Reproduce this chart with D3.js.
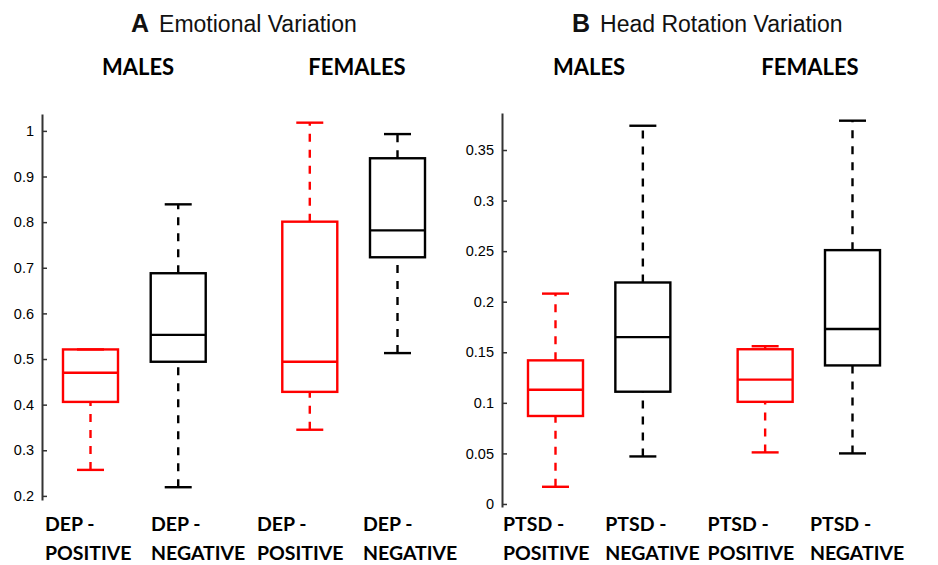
<!DOCTYPE html>
<html>
<head>
<meta charset="utf-8">
<script src="https://cdn.jsdelivr.net/npm/d3@7"></script>
<style>
  body { margin: 0; background: #fff; }
  svg { display: block; }
</style>
</head>
<body>
<div id="chart"></div>
<script>
// Panel A - Emotional Variation (box stats)
const groupsA = ["MALES", "FEMALES"];
const catsA = [["DEP -", "POSITIVE"], ["DEP -", "NEGATIVE"], ["DEP -", "POSITIVE"], ["DEP -", "NEGATIVE"]];
const lowA  = [0.257, 0.219, 0.345, 0.513];
const q1A   = [0.406, 0.494, 0.428, 0.723];
const medA  = [0.470, 0.553, 0.494, 0.782];
const q3A   = [0.521, 0.688, 0.801, 0.940];
const highA = [0.521, 0.839, 1.018, 0.993];
const ticksA = [0.2, 0.3, 0.4, 0.5, 0.6, 0.7, 0.8, 0.9, 1];

// Panel B - Head Rotation Variation
const groupsB = ["MALES", "FEMALES"];
const catsB = [["PTSD -", "POSITIVE"], ["PTSD -", "NEGATIVE"], ["PTSD -", "POSITIVE"], ["PTSD -", "NEGATIVE"]];
const lowB  = [0.017, 0.047, 0.051, 0.050];
const q1B   = [0.087, 0.111, 0.101, 0.137];
const medB  = [0.113, 0.165, 0.123, 0.173];
const q3B   = [0.142, 0.219, 0.153, 0.251];
const highB = [0.208, 0.374, 0.156, 0.379];
const ticksB = [0, 0.05, 0.1, 0.15, 0.2, 0.25, 0.3, 0.35];

const boxColors = ["#ff0000", "#000000", "#ff0000", "#000000"];

const width = 938, height = 565;
const svg = d3.select("#chart").append("svg")
  .attr("width", width)
  .attr("height", height);

function drawPanel(p) {
  const g = svg.append("g");

  // y scale (domain a bit wider than ticks so the axis line overshoots like the original)
  const y = d3.scaleLinear().domain(p.yDomain).range([p.yBottom, p.yTop]);
  // slot scale: female pair is pushed right by a gap
  const x = d3.scaleLinear().domain([0, 3 + p.gap]).range(p.xRange);
  const slot = i => x(i + (i >= 2 ? p.gap : 0));

  const axis = d3.axisLeft(y)
    .tickValues(p.ticks)
    .tickFormat(d => String(+d.toFixed(2)))
    .tickSizeInner(-5)
    .tickSizeOuter(0)
    .tickPadding(8);

  const ax = g.append("g")
    .attr("transform", `translate(${p.axisX},0)`)
    .call(axis);
  ax.select(".domain").attr("stroke", "#333").attr("stroke-width", 2);
  ax.selectAll(".tick line").attr("stroke", "#333").attr("stroke-width", 1.5);
  ax.selectAll(".tick text")
    .attr("fill", "#000")
    .style("font-family", "'Liberation Sans', Arial, sans-serif")
    .style("font-size", "14.5px");

  const boxW = 55, capW = 27;
  const stats = p.low.map((d, i) => ({
    i: i, low: p.low[i], q1: p.q1[i], med: p.med[i], q3: p.q3[i], high: p.high[i]
  }));

  const boxes = g.selectAll("g.box")
    .data(stats)
    .join("g")
    .attr("class", "box")
    .attr("stroke", d => boxColors[d.i])
    .attr("stroke-width", 2.4)
    .attr("fill", "none");

  // whiskers: drawn from bottom to top so the dash pattern lines up like matlab's
  boxes.append("line")
    .attr("x1", d => slot(d.i)).attr("x2", d => slot(d.i))
    .attr("y1", d => y(d.low)).attr("y2", d => y(d.q1))
    .attr("stroke-dasharray", "8,8");
  boxes.append("line")
    .attr("x1", d => slot(d.i)).attr("x2", d => slot(d.i))
    .attr("y1", d => y(d.q3)).attr("y2", d => y(d.high))
    .attr("stroke-dasharray", "8,8");

  // caps
  boxes.append("line")
    .attr("x1", d => slot(d.i) - capW / 2).attr("x2", d => slot(d.i) + capW / 2)
    .attr("y1", d => y(d.low)).attr("y2", d => y(d.low));
  boxes.append("line")
    .attr("x1", d => slot(d.i) - capW / 2).attr("x2", d => slot(d.i) + capW / 2)
    .attr("y1", d => y(d.high)).attr("y2", d => y(d.high));

  // box + median
  boxes.append("rect")
    .attr("x", d => slot(d.i) - boxW / 2)
    .attr("width", boxW)
    .attr("y", d => y(d.q3))
    .attr("height", d => y(d.q1) - y(d.q3));
  boxes.append("line")
    .attr("x1", d => slot(d.i) - boxW / 2).attr("x2", d => slot(d.i) + boxW / 2)
    .attr("y1", d => y(d.med)).attr("y2", d => y(d.med));

  // title
  const t = g.append("text")
    .attr("x", p.titleX)
    .attr("y", 32)
    .style("font-family", "'Liberation Sans', Arial, sans-serif")
    .attr("fill", "#111");
  t.append("tspan").style("font-weight", "bold").style("font-size", "25px").text(p.letter);
  t.append("tspan").attr("dx", 10).style("font-size", "23px").text(p.title);

  // group headers
  g.selectAll("text.grp")
    .data(p.groups)
    .join("text")
    .attr("class", "grp")
    .attr("x", (d, i) => p.headerX[i])
    .attr("y", 75)
    .attr("text-anchor", "middle")
    .style("font-family", "Lato, 'Open Sans', sans-serif")
    .style("font-weight", "bold")
    .style("font-size", "22px")
    .attr("fill", "#000")
    .text(d => d);

  // category labels under the axis
  const lab = g.selectAll("text.cat")
    .data(p.cats)
    .join("text")
    .attr("class", "cat")
    .attr("x", (d, i) => p.labelX + i * p.labelStep)
    .attr("y", 531)
    .style("font-family", "Lato, 'Open Sans', sans-serif")
    .style("font-weight", "bold")
    .style("font-size", "19.5px")
    .attr("fill", "#000");
  lab.append("tspan").text(d => d[0]);
  lab.append("tspan")
    .attr("x", (d, i) => p.labelX + i * p.labelStep)
    .attr("y", 560)
    .text(d => d[1]);
}

drawPanel({
  letter: "A", title: "Emotional Variation", titleX: 131,
  groups: groupsA, cats: catsA, headerX: [138, 357],
  low: lowA, q1: q1A, med: medA, q3: q3A, high: highA, ticks: ticksA,
  yDomain: [0.191, 1.037], yBottom: 500, yTop: 114,
  axisX: 42, xRange: [90.5, 397.5], gap: 0.5,
  labelX: 45, labelStep: 106
});

drawPanel({
  letter: "B", title: "Head Rotation Variation", titleX: 572,
  groups: groupsB, cats: catsB, headerX: [589, 810],
  low: lowB, q1: q1B, med: medB, q3: q3B, high: highB, ticks: ticksB,
  yDomain: [-0.003, 0.3866], yBottom: 507, yTop: 113,
  axisX: 502, xRange: [555.5, 852.5], gap: 0.4,
  labelX: 503, labelStep: 102.3
});
</script>
</body>
</html>
